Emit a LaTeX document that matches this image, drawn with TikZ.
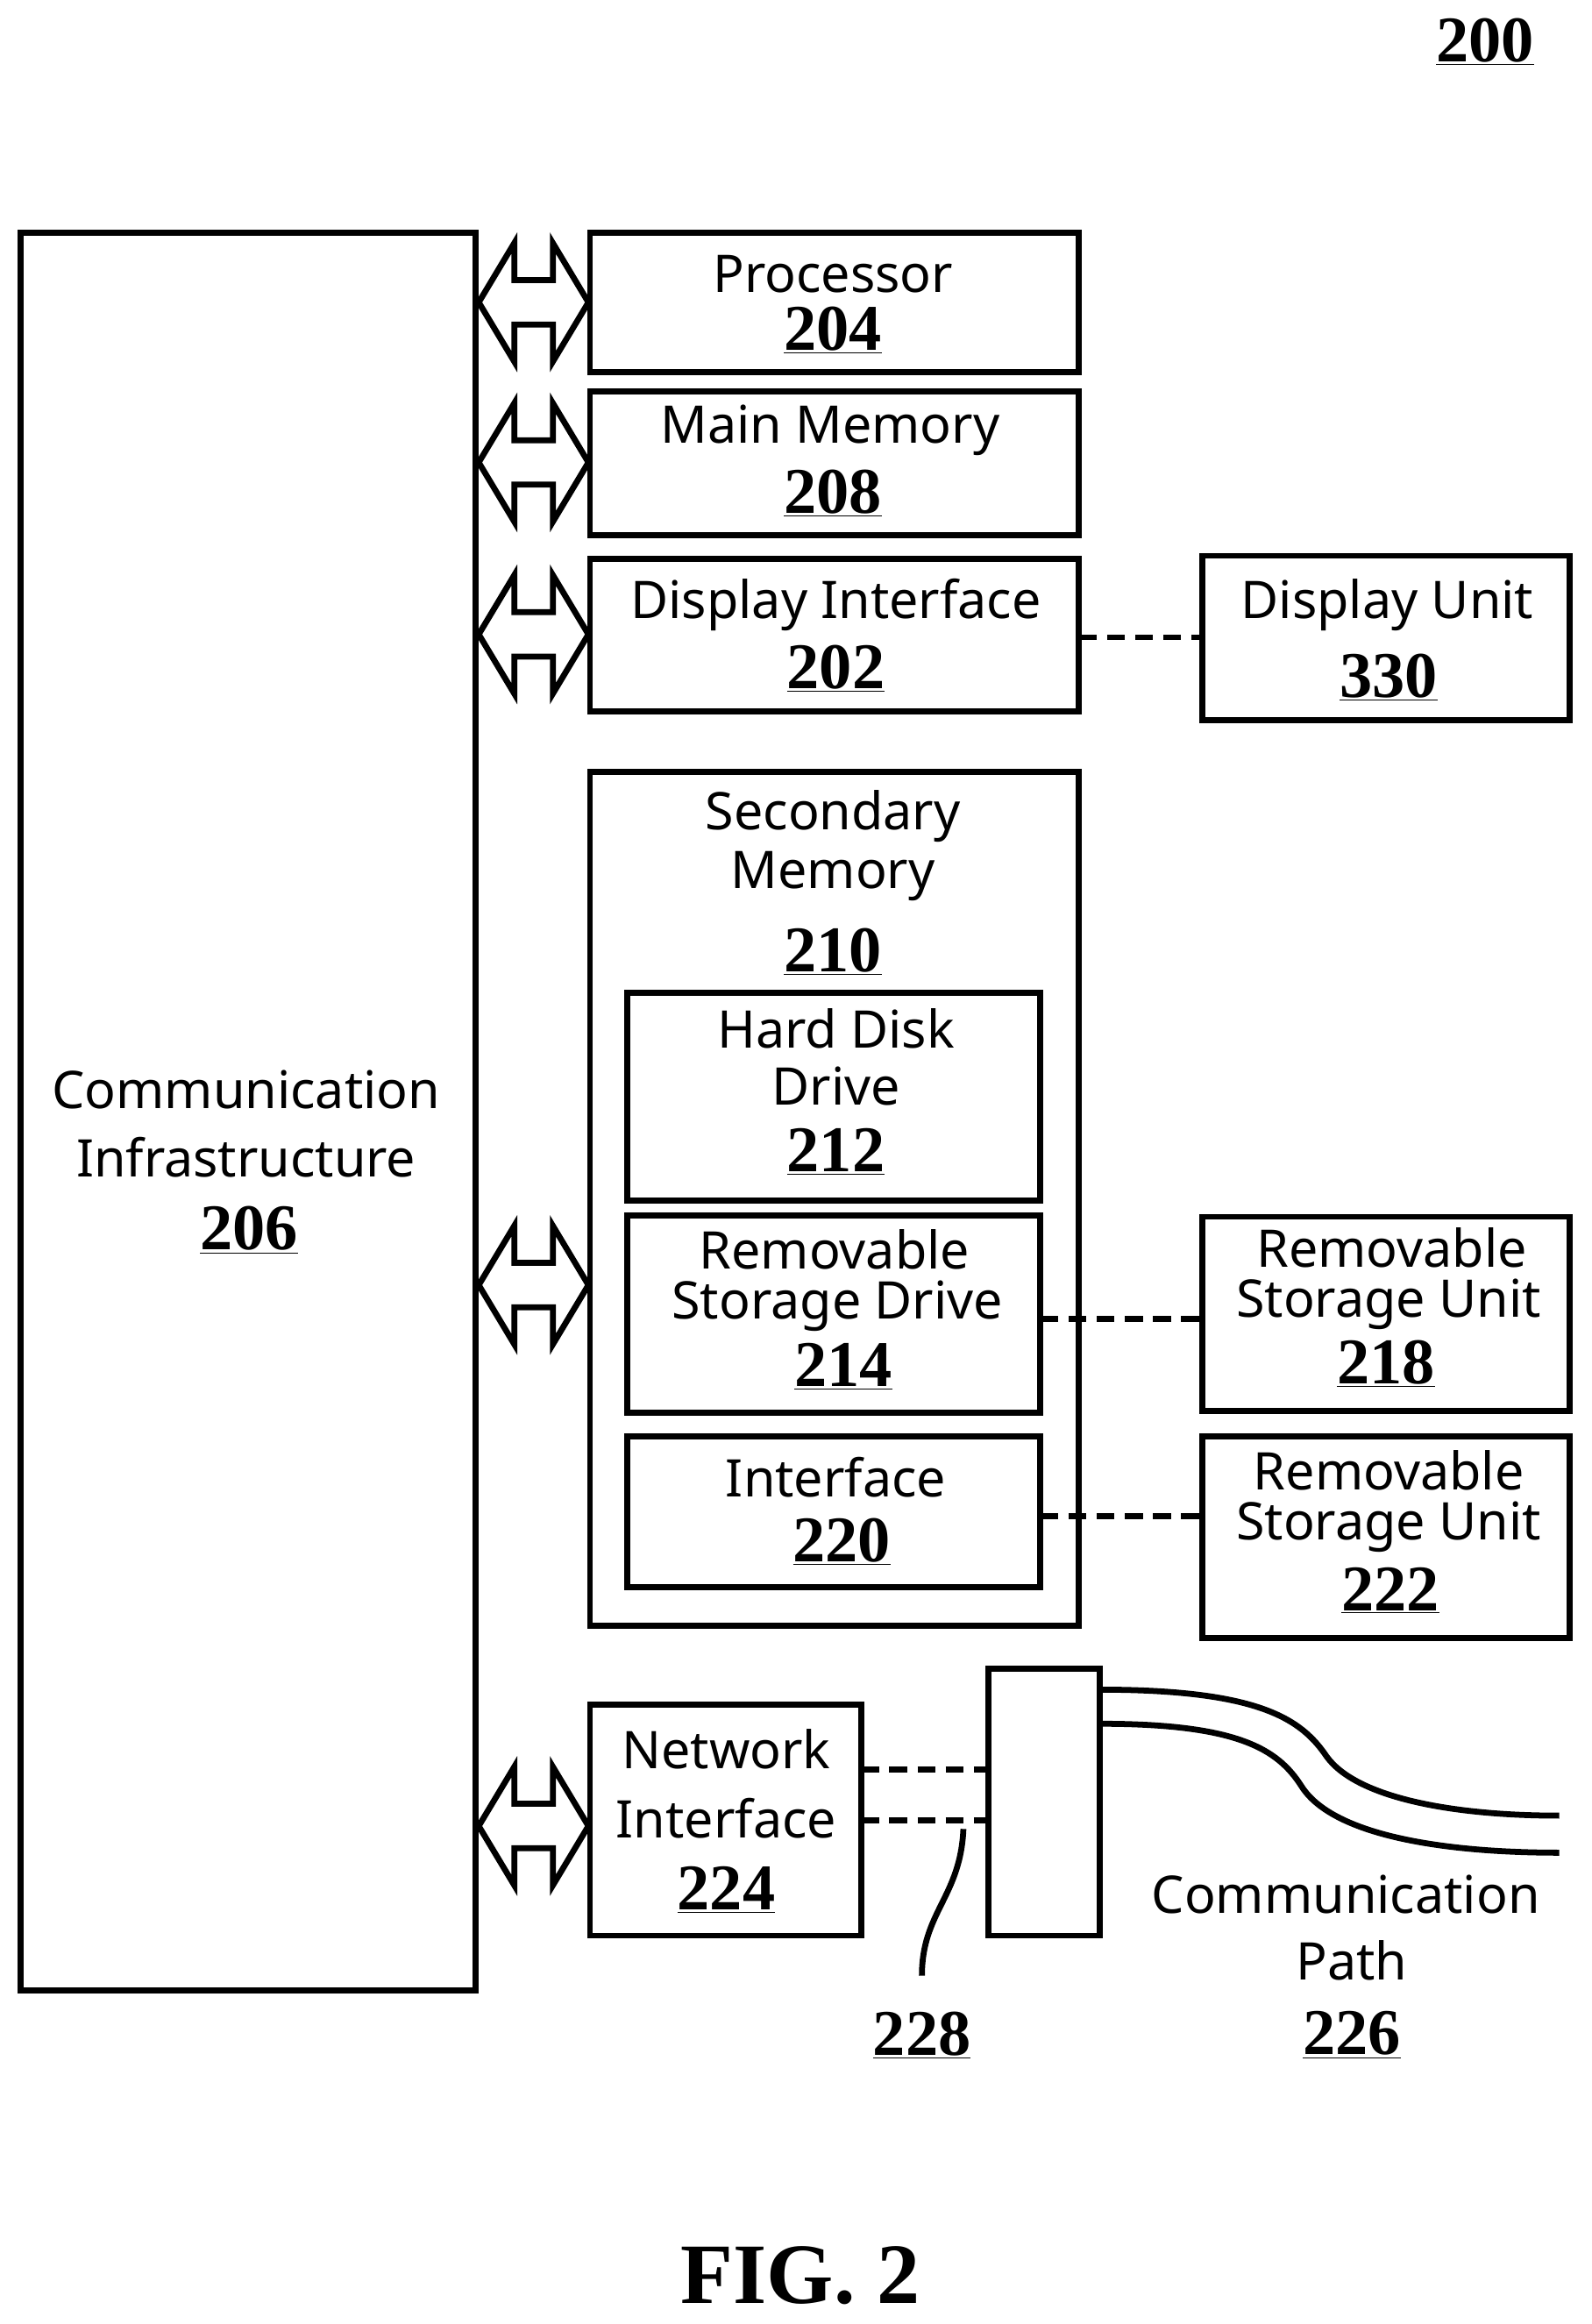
\documentclass[tikz,border=0pt]{standalone}
\usepackage{fontspec}
\setmainfont{Noto Sans}
\newfontfamily\numf{Liberation Serif}
\begin{document}
\begin{tikzpicture}[x=1pt,y=-1pt,
 box/.style={draw,line width=4pt},
 dsh/.style={line width=4pt,dash pattern=on 12pt off 7pt},
 t/.style={inner sep=0pt,font=\fontsize{35}{40}\selectfont},
 n/.style={inner sep=0pt,font=\numf\bfseries\fontsize{44}{46}\selectfont},
 dbl/.style={line width=4pt,fill=white,line join=miter}]
\useasboundingbox (0,0) rectangle (1074,1568);
\newcommand\dar[1]{\draw[dbl] (323,#1) -- (347,#1-40) -- (347,#1-15) -- (373,#1-15) -- (373,#1-40) -- (397,#1) -- (373,#1+40) -- (373,#1+15) -- (347,#1+15) -- (347,#1+40) -- cycle;}
\node[n] (l200) at (1002,28) {\underline{200}};
\draw[box] (14,157) rectangle (321,1343);
\node[t] (ci1) at (166,735) {Communication};
\node[t] (ci2) at (166,781) {Infrastructure};
\node[n] (ci3) at (168,830) {\underline{206}};
\draw[box] (398,157) rectangle (728,251);
\node[t] at (562,185) {Processor}; \node[n] at (562,223) {\underline{204}};
\draw[box] (398,264) rectangle (728,361);
\node[t] at (560,290) {Main Memory}; \node[n] at (562,333) {\underline{208}};
\draw[box] (398,377) rectangle (728,480);
\node[t] at (564,408) {Display Interface}; \node[n] at (564,451) {\underline{202}};
\draw[box] (811,375) rectangle (1059,486);
\node[t] at (936,408) {Display Unit}; \node[n] at (937,457) {\underline{330}};
\draw[box] (398,521) rectangle (728,1097);
\node[t] at (562,551) {Secondary}; \node[t] at (562,591) {Memory}; \node[n] at (562,642) {\underline{210}};
\draw[box] (423,670) rectangle (702,810);
\node[t] at (564,694) {Hard Disk}; \node[t] at (564,733) {Drive}; \node[n] at (564,777) {\underline{212}};
\draw[box] (423,820) rectangle (702,953);
\node[t] at (563,843) {Removable}; \node[t] at (565,881) {Storage Drive}; \node[n] at (569,922) {\underline{214}};
\draw[box] (423,969) rectangle (702,1071);
\node[t] at (564,997) {Interface}; \node[n] at (568,1040) {\underline{220}};
\draw[box] (811,821) rectangle (1059,952);
\node[t] at (939,842) {Removable}; \node[t] at (937,880) {Storage Unit}; \node[n] at (935,920) {\underline{218}};
\draw[box] (811,969) rectangle (1059,1105);
\node[t] at (937,992) {Removable}; \node[t] at (937,1030) {Storage Unit}; \node[n] at (938,1073) {\underline{222}};
\draw[box] (398,1150) rectangle (581,1306);
\node[t] at (490,1180) {Network}; \node[t] at (490,1227) {Interface}; \node[n] at (490,1275) {\underline{224}};
\draw[box] (667,1126) rectangle (742,1306);
\draw[dsh] (728,430) -- (811,430);
\draw[dsh] (702,890) -- (811,890);
\draw[dsh] (702,1023) -- (811,1023);
\draw[dsh] (581,1194) -- (667,1194);
\draw[dsh] (581,1228) -- (667,1228);
\draw[line width=4pt] (742,1140) .. controls (850,1140) and (878,1160) .. (895,1185) .. controls (915,1213) and (980,1225) .. (1052,1225);
\draw[line width=4pt] (742,1163) .. controls (835,1163) and (862,1180) .. (878,1205) .. controls (900,1240) and (980,1250) .. (1052,1250);
\node[t] at (908,1278) {Communication}; \node[t] at (912,1323) {Path}; \node[n] at (912,1373) {\underline{226}};
\draw[line width=4pt] (650,1234) .. controls (648,1280) and (622,1290) .. (622,1333);
\node[n] at (622,1373) {\underline{228}};
\dar{204}\dar{312}\dar{428}\dar{867}\dar{1232}
\node[inner sep=0pt,font=\numf\bfseries\fontsize{58}{60}\selectfont] at (540,1535) {FIG. 2};
\end{tikzpicture}
\end{document}
